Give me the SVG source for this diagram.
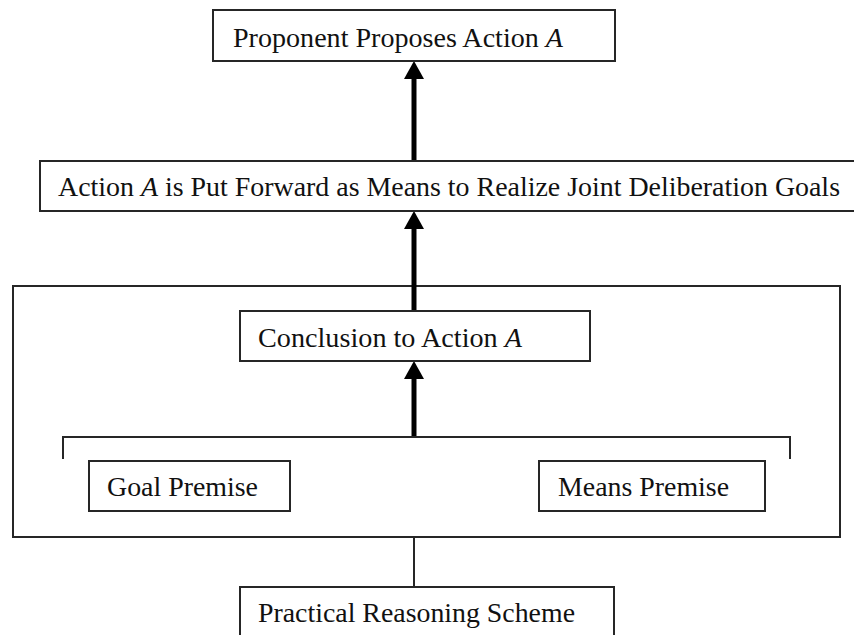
<svg xmlns="http://www.w3.org/2000/svg" width="854" height="635" viewBox="0 0 854 635">
  <style>
    .box { fill: #ffffff; stroke: #262626; stroke-width: 2; }
    .frame { fill: none; stroke: #262626; stroke-width: 2; }
    .label { font-family: "Liberation Serif", "Times New Roman", serif; font-size: 28px; fill: #111111; }
    .var { font-style: italic; }
    .thick { stroke: #000000; stroke-width: 5; fill: none; }
    .thin { stroke: #262626; stroke-width: 2; fill: none; }
  </style>
  <defs>
    <marker id="head" markerUnits="userSpaceOnUse" viewBox="0 0 18 20" markerWidth="18" markerHeight="20" refX="0" refY="10" orient="auto">
      <path d="M0,0 L18,10 L0,20 Z" fill="#000000"/>
    </marker>
  </defs>

  <rect width="854" height="635" fill="#ffffff"/>

  <!-- outer frame of the practical reasoning scheme -->
  <g id="scheme-frame">
    <rect class="frame" x="13" y="286" width="827" height="251"/>
  </g>

  <g id="connectors">
    <!-- middle statement supports the proposal -->
    <line class="thick" x1="414" y1="161" x2="414" y2="79" marker-end="url(#head)"/>
    <!-- conclusion supports the middle statement -->
    <line class="thick" x1="414" y1="311" x2="414" y2="229" marker-end="url(#head)"/>
    <!-- premises bracket to conclusion -->
    <line class="thick" x1="414" y1="437" x2="414" y2="379" marker-end="url(#head)"/>
    <polyline class="thin" points="63,459 63,437 790,437 790,459"/>
    <!-- scheme label link -->
    <line class="thin" x1="414" y1="537" x2="414" y2="587"/>
  </g>

  <g id="proponent-proposes">
    <rect class="box" x="213" y="10" width="402" height="51"/>
    <text class="label" x="233" y="47" textLength="330" lengthAdjust="spacingAndGlyphs">Proponent Proposes Action <tspan class="var">A</tspan></text>
  </g>

  <g id="put-forward">
    <rect class="box" x="40" y="161" width="830" height="50"/>
    <text class="label" x="58" y="196" textLength="782" lengthAdjust="spacingAndGlyphs">Action <tspan class="var">A</tspan> is Put Forward as Means to Realize Joint Deliberation Goals</text>
  </g>

  <g id="conclusion">
    <rect class="box" x="240" y="311" width="350" height="50"/>
    <text class="label" x="258" y="347" textLength="264" lengthAdjust="spacingAndGlyphs">Conclusion to Action <tspan class="var">A</tspan></text>
  </g>

  <g id="goal-premise">
    <rect class="box" x="89" y="461" width="201" height="50"/>
    <text class="label" x="107" y="496" textLength="151" lengthAdjust="spacingAndGlyphs">Goal Premise</text>
  </g>

  <g id="means-premise">
    <rect class="box" x="539" y="461" width="226" height="50"/>
    <text class="label" x="558" y="496" textLength="171" lengthAdjust="spacingAndGlyphs">Means Premise</text>
  </g>

  <g id="practical-reasoning-scheme">
    <rect class="box" x="240" y="587" width="374" height="70"/>
    <text class="label" x="258" y="622" textLength="317" lengthAdjust="spacingAndGlyphs">Practical Reasoning Scheme</text>
  </g>
</svg>
